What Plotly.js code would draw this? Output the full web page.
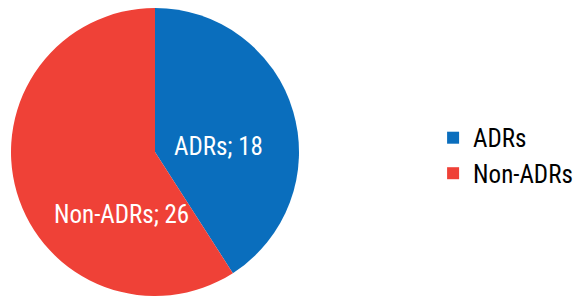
<!DOCTYPE html>
<html><head><meta charset="utf-8">
<script src="https://cdn.plot.ly/plotly-3.0.1.min.js"></script>
<style>html,body{margin:0;padding:0;background:#fff}#chart{width:579px;height:296px}</style>
</head><body><div id="chart"></div>
<script>
const categories = ["ADRs", "Non-ADRs"];
const counts = [18, 26];
const colors = ["#0a6ebd", "#ef4137"];
const labelPos = [[0.378, 0.520], [0.209, 0.284]];
const FONT = "'Liberation Sans Narrow', 'Roboto Condensed', 'Arial Narrow', sans-serif";

const trace = {
  type: "pie",
  labels: categories,
  values: counts,
  sort: false,
  direction: "clockwise",
  rotation: 0,
  marker: {colors: colors, line: {width: 0}},
  textinfo: "none",
  hoverinfo: "label+value",
  domain: {x: [10/579, 300/579], y: [0, 1]}
};

const annotations = categories.map((c, i) => ({
  text: c + "; " + counts[i],
  x: labelPos[i][0], y: labelPos[i][1], xref: "paper", yref: "paper",
  xanchor: "center", yanchor: "middle",
  showarrow: false, font: {family: FONT, size: 25, color: "#ffffff"}
}));

const layout = {
  width: 579, height: 296,
  margin: {l: 0, r: 0, t: 8, b: 0},
  paper_bgcolor: "#ffffff",
  showlegend: true,
  legend: {x: 0.748, xanchor: "left", y: 0.488, yanchor: "middle",
           font: {family: FONT, size: 25, color: "#000000"}},
  annotations: annotations
};
Plotly.newPlot("chart", [trace], layout, {displayModeBar: false, staticPlot: true});
</script></body></html>
